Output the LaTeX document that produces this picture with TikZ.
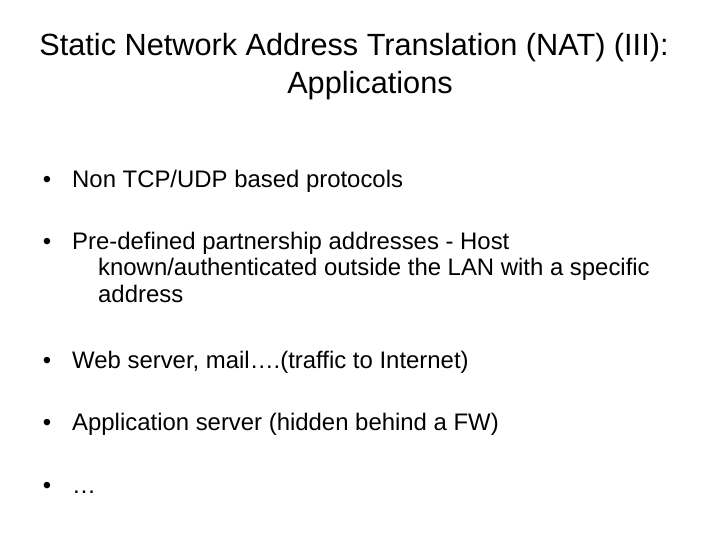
\documentclass[tikz,border=0pt]{standalone}
\usepackage{fontspec}
\setmainfont{Liberation Sans}
\begin{document}
\begin{tikzpicture}[x=1bp,y=1bp,
  title/.style={font=\fontsize{30.8}{36}\selectfont, anchor=center, inner sep=0},
  txt/.style={font=\fontsize{24}{28}\selectfont, anchor=base west, inner sep=0},
  bul/.style={font=\fontsize{24}{28}\selectfont, anchor=base, inner sep=0}]
\useasboundingbox (0,0) rectangle (720,-540);
\node[title] (t1) at (354,-48) {Static Network Address Translation (NAT) (III):};
\node[title] (t2) at (370,-86) {Applications};
\node[bul] (b1) at (47,-188) {•};
\node[txt] (l1) at (72,-188) {Non TCP/UDP based protocols};
\node[bul] (b2) at (47,-250) {•};
\node[txt] (l2) at (72,-250) {Pre-defined partnership addresses - Host};
\node[txt] (l2b) at (98,-276) {known/authenticated outside the LAN with a specific};
\node[txt] (l2c) at (98,-302) {address};
\node[bul] (b3) at (47,-368) {•};
\node[txt] (l3) at (72,-368) {Web server, mail….(traffic to Internet)};
\node[bul] (b4) at (47,-430) {•};
\node[txt] (l4) at (72,-430) {Application server (hidden behind a FW)};
\node[bul] (b5) at (47,-493) {•};
\node[txt] (l5) at (72,-493) {…};
\end{tikzpicture}
\end{document}
